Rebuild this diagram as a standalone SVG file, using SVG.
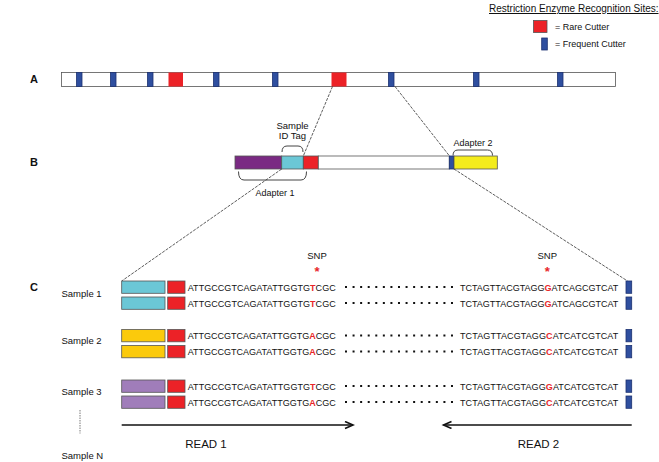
<svg xmlns="http://www.w3.org/2000/svg" width="659" height="462" viewBox="0 0 659 462">
<defs>
<style>
text{font-family:"Liberation Sans",Arial,sans-serif;fill:#111}
.lbl{font-size:11px;font-weight:bold}
.sm{font-size:9.5px}
.seq{font-size:9px}
.snp{fill:#e8262a}
tspan.snp{font-weight:bold}
.box{stroke:#555;stroke-width:0.8}
.red{fill:#ec2227}
.blue{fill:#2f4f9f;stroke:#1c3170;stroke-width:0.8}
.cyan{fill:#6bc7d6}
.gold{fill:#fbca0c}
.lav{fill:#a07dba}
.brace{fill:none;stroke:#444;stroke-width:1}
.guide{fill:none;stroke:#333;stroke-width:0.8;stroke-dasharray:3 1.2}
.dots{stroke:#111;stroke-width:2;stroke-dasharray:2 5.57}
.read{stroke:#111;stroke-width:1.6;fill:none}
</style>
<marker id="arr" markerUnits="userSpaceOnUse" markerWidth="12" markerHeight="10" refX="9" refY="4" orient="auto">
<path d="M1,0.5 L9,4 L1,7.5" fill="none" stroke="#111" stroke-width="1.6"/>
</marker>
</defs>

<g id="legend">
<text x="489" y="12" font-size="10" text-decoration="underline">Restriction Enzyme Recognition Sites:</text>
<rect x="533.5" y="20.5" width="13.5" height="12" class="red box"/>
<text x="555" y="30" font-size="9">= Rare Cutter</text>
<rect x="541.7" y="38" width="5.6" height="12" class="blue"/>
<text x="555" y="47" font-size="9">= Frequent Cutter</text>
</g>

<g id="labels">
<text x="30" y="83" class="lbl">A</text>
<text x="30" y="166" class="lbl">B</text>
<text x="30" y="291" class="lbl">C</text>
</g>

<g id="rowA">
<rect x="61.5" y="72.5" width="554" height="14" fill="#fff" class="box"/>
<rect x="76.5" y="72.5" width="5.5" height="14" class="blue"/>
<rect x="110.5" y="72.5" width="5.5" height="14" class="blue"/>
<rect x="147.5" y="72.5" width="5.5" height="14" class="blue"/>
<rect x="168.5" y="72.5" width="14.5" height="14" class="red"/>
<rect x="213.5" y="72.5" width="5.5" height="14" class="blue"/>
<rect x="272.5" y="72.5" width="5.5" height="14" class="blue"/>
<rect x="331.5" y="72.5" width="15" height="14" class="red"/>
<rect x="388.5" y="72.5" width="5.5" height="14" class="blue"/>
<rect x="473.5" y="72.5" width="5.5" height="14" class="blue"/>
<rect x="557.5" y="72.5" width="5.5" height="14" class="blue"/>
</g>

<g id="rowB">
<rect x="235" y="156" width="46.7" height="13" fill="#7a2a83" class="box"/>
<rect x="281.7" y="156" width="21.6" height="13" class="cyan box"/>
<rect x="303.3" y="156" width="15" height="13" class="red box"/>
<rect x="318.3" y="156" width="131" height="13" fill="#fff" class="box"/>
<rect x="449.3" y="156" width="4.7" height="13" class="blue"/>
<rect x="454" y="156" width="43.3" height="13" fill="#f4ec1c" class="box"/>
<path class="brace" d="M282,152 Q282,146 287,146 L298,146 Q303,146 303,152"/>
<text x="292.5" y="128.5" class="sm" text-anchor="middle">Sample</text>
<text x="292.5" y="139" class="sm" text-anchor="middle">ID Tag</text>
<path class="brace" d="M453,155.5 Q453,150 458,150 L487.5,150 Q492.5,150 492.5,155.5"/>
<text x="473" y="145.5" font-size="9" text-anchor="middle">Adapter 2</text>
<path class="brace" d="M238.5,171.5 Q238.5,180 244,180 L301,180 Q306.5,180 306.5,171.5"/>
<text x="275" y="195.5" font-size="9" text-anchor="middle">Adapter 1</text>
</g>

<g id="connectors">
<line class="guide" x1="332.5" y1="86.5" x2="303.3" y2="156"/>
<line class="guide" x1="395" y1="86.5" x2="449.5" y2="156"/>
<line class="guide" x1="281.7" y1="169" x2="121.7" y2="281"/>
<line class="guide" x1="454" y1="169" x2="627.5" y2="281"/>
<line stroke="#555" stroke-width="0.8" stroke-dasharray="1.5 1" x1="80" y1="410" x2="80" y2="433.5"/>
<line class="read" x1="121.7" y1="425" x2="353" y2="425" marker-end="url(#arr)"/>
<line class="read" x1="631.7" y1="425" x2="443.5" y2="425" marker-end="url(#arr)"/>
</g>

<g id="snp-markers">
<text x="317" y="259" class="sm" text-anchor="middle">SNP</text>
<text x="317" y="276" font-size="13" font-weight="bold" class="snp" text-anchor="middle">*</text>
<text x="547.3" y="259" class="sm" text-anchor="middle">SNP</text>
<text x="547.3" y="276" font-size="13" font-weight="bold" class="snp" text-anchor="middle">*</text>
</g>

<g id="sample1">
<text x="61.5" y="297" class="sm">Sample 1</text>
<rect x="121.7" y="281" width="43.3" height="12.3" class="cyan box"/>
<rect x="167.7" y="281" width="17.3" height="12.3" class="red box"/>
<text x="187.7" y="290.5" class="seq" textLength="148" lengthAdjust="spacing">ATTGCCGTCAGATATTGGTG<tspan class="snp">T</tspan>CGC</text>
<line class="dots" x1="345" y1="287" x2="453" y2="287"/>
<text x="460" y="290.5" class="seq" textLength="158.3" lengthAdjust="spacing">TCTAGTTACGTAGG<tspan class="snp">G</tspan>ATCAGCGTCAT</text>
<rect x="626" y="281" width="5.7" height="12.3" class="blue"/>
<rect x="121.7" y="297" width="43.3" height="12.3" class="cyan box"/>
<rect x="167.7" y="297" width="17.3" height="12.3" class="red box"/>
<text x="187.7" y="306.5" class="seq" textLength="148" lengthAdjust="spacing">ATTGCCGTCAGATATTGGTG<tspan class="snp">T</tspan>CGC</text>
<line class="dots" x1="345" y1="303" x2="453" y2="303"/>
<text x="460" y="306.5" class="seq" textLength="158.3" lengthAdjust="spacing">TCTAGTTACGTAGG<tspan class="snp">G</tspan>ATCAGCGTCAT</text>
<rect x="626" y="297" width="5.7" height="12.3" class="blue"/>
</g>

<g id="sample2">
<text x="61.5" y="344" class="sm">Sample 2</text>
<rect x="121.7" y="329.5" width="43.3" height="12.3" class="gold box"/>
<rect x="167.7" y="329.5" width="17.3" height="12.3" class="red box"/>
<text x="187.7" y="339" class="seq" textLength="148" lengthAdjust="spacing">ATTGCCGTCAGATATTGGTG<tspan class="snp">A</tspan>CGC</text>
<line class="dots" x1="345" y1="335.5" x2="453" y2="335.5"/>
<text x="460" y="339" class="seq" textLength="158.3" lengthAdjust="spacing">TCTAGTTACGTAGG<tspan class="snp">C</tspan>ATCATCGTCAT</text>
<rect x="626" y="329.5" width="5.7" height="12.3" class="blue"/>
<rect x="121.7" y="345.5" width="43.3" height="12.3" class="gold box"/>
<rect x="167.7" y="345.5" width="17.3" height="12.3" class="red box"/>
<text x="187.7" y="355" class="seq" textLength="148" lengthAdjust="spacing">ATTGCCGTCAGATATTGGTG<tspan class="snp">A</tspan>CGC</text>
<line class="dots" x1="345" y1="351.5" x2="453" y2="351.5"/>
<text x="460" y="355" class="seq" textLength="158.3" lengthAdjust="spacing">TCTAGTTACGTAGG<tspan class="snp">C</tspan>ATCATCGTCAT</text>
<rect x="626" y="345.5" width="5.7" height="12.3" class="blue"/>
</g>

<g id="sample3">
<text x="61.5" y="395" class="sm">Sample 3</text>
<rect x="121.7" y="380" width="43.3" height="12.3" class="lav box"/>
<rect x="167.7" y="380" width="17.3" height="12.3" class="red box"/>
<text x="187.7" y="389.5" class="seq" textLength="148" lengthAdjust="spacing">ATTGCCGTCAGATATTGGTG<tspan class="snp">T</tspan>CGC</text>
<line class="dots" x1="345" y1="386" x2="453" y2="386"/>
<text x="460" y="389.5" class="seq" textLength="158.3" lengthAdjust="spacing">TCTAGTTACGTAGG<tspan class="snp">G</tspan>ATCATCGTCAT</text>
<rect x="626" y="380" width="5.7" height="12.3" class="blue"/>
<rect x="121.7" y="396" width="43.3" height="12.3" class="lav box"/>
<rect x="167.7" y="396" width="17.3" height="12.3" class="red box"/>
<text x="187.7" y="405.5" class="seq" textLength="148" lengthAdjust="spacing">ATTGCCGTCAGATATTGGTG<tspan class="snp">A</tspan>CGC</text>
<line class="dots" x1="345" y1="402" x2="453" y2="402"/>
<text x="460" y="405.5" class="seq" textLength="158.3" lengthAdjust="spacing">TCTAGTTACGTAGG<tspan class="snp">C</tspan>ATCATCGTCAT</text>
<rect x="626" y="396" width="5.7" height="12.3" class="blue"/>
</g>

<g id="sampleN">
<text x="61.5" y="458.5" class="sm">Sample N</text>
</g>

<g id="reads">
<text x="206" y="447.5" font-size="11.5" text-anchor="middle">READ 1</text>
<text x="538.5" y="447.5" font-size="11.5" text-anchor="middle">READ 2</text>
</g>
</svg>
